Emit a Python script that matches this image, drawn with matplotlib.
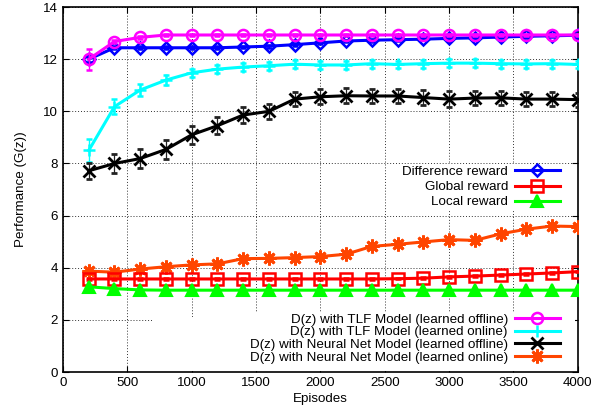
import numpy as np
import matplotlib
matplotlib.use('Agg')
import matplotlib.pyplot as plt
from matplotlib.patches import Rectangle

plt.rcParams['font.family'] = ['Liberation Sans', 'DejaVu Sans']
plt.rcParams['font.size'] = 9.6

episodes = [200, 400, 600, 800, 1000, 1200, 1400, 1600, 1800, 2000,
            2200, 2400, 2600, 2800, 3000, 3200, 3400, 3600, 3800, 4000]

difference = [12.0, 12.44, 12.44, 12.44, 12.44, 12.44, 12.47, 12.5, 12.56, 12.63,
              12.7, 12.73, 12.75, 12.77, 12.8, 12.82, 12.85, 12.88, 12.9, 12.92]
global_r = [3.57, 3.57, 3.57, 3.57, 3.57, 3.57, 3.57, 3.57, 3.57, 3.57,
            3.57, 3.57, 3.58, 3.6, 3.65, 3.68, 3.72, 3.76, 3.8, 3.85]
local_r = [3.27, 3.2, 3.15, 3.14, 3.14, 3.14, 3.14, 3.14, 3.14, 3.14,
           3.14, 3.14, 3.14, 3.14, 3.14, 3.14, 3.14, 3.14, 3.14, 3.14]
tlf_offline = [12.0, 12.68, 12.84, 12.93, 12.93, 12.93, 12.93, 12.93, 12.93, 12.93,
               12.93, 12.93, 12.93, 12.93, 12.93, 12.93, 12.93, 12.93, 12.93, 12.93]
tlf_online = [8.5, 10.18, 10.82, 11.2, 11.48, 11.62, 11.7, 11.75, 11.81, 11.78,
              11.78, 11.83, 11.8, 11.83, 11.85, 11.85, 11.83, 11.82, 11.83, 11.8]
nn_offline = [7.72, 8.0, 8.19, 8.54, 9.1, 9.45, 9.86, 10.0, 10.47, 10.56,
              10.6, 10.59, 10.59, 10.53, 10.47, 10.51, 10.52, 10.47, 10.47, 10.45]
nn_online = [3.87, 3.83, 3.95, 4.04, 4.11, 4.15, 4.35, 4.36, 4.39, 4.43,
             4.52, 4.82, 4.9, 4.99, 5.08, 5.05, 5.3, 5.48, 5.6, 5.58]

tlf_offline_err = [0.4, 0.05, 0.05, 0.05, 0.05, 0.05, 0.05, 0.05, 0.05, 0.05,
                   0.05, 0.05, 0.05, 0.05, 0.05, 0.05, 0.05, 0.05, 0.05, 0.05]
tlf_online_err = [0.45, 0.3, 0.22, 0.2, 0.15, 0.15, 0.15, 0.15, 0.15, 0.15,
                  0.15, 0.15, 0.15, 0.15, 0.15, 0.15, 0.15, 0.15, 0.15, 0.15]
nn_offline_err = [0.3, 0.36, 0.35, 0.36, 0.35, 0.33, 0.3, 0.3, 0.27, 0.28,
                  0.28, 0.27, 0.27, 0.3, 0.3, 0.28, 0.28, 0.28, 0.28, 0.27]
difference_err = [0.1] + [0.05] * 19

fig = plt.figure(figsize=(5.92, 4.18), dpi=100)
ax = fig.add_axes([0.1064, 0.110, 0.8696, 0.873])

lw = 2.2
ms = 8

# TLF offline
l_tlf_off = ax.errorbar(episodes, tlf_offline, yerr=tlf_offline_err, color='#ff00ff', lw=lw,
                        marker='o', ms=ms, mfc='none', mew=1.8, capsize=2.5, elinewidth=1,
                        ecolor='#ff00ff', zorder=5)
# TLF online
l_tlf_on = ax.errorbar(episodes, tlf_online, yerr=tlf_online_err, color='#00ffff', lw=lw,
                       marker='+', ms=ms + 1, mew=1.8, capsize=2.5, elinewidth=1,
                       ecolor='#00ffff', zorder=4)
# NN offline
l_nn_off = ax.errorbar(episodes, nn_offline, yerr=nn_offline_err, color='black', lw=lw,
                       marker='x', ms=ms + 1, mew=2, capsize=2.5, elinewidth=0.9,
                       ecolor='#222222', zorder=4)
# NN online
l_nn_on = ax.errorbar(episodes, nn_online, yerr=0.04, color='#ff4500', lw=lw,
                      marker=(8, 2, 0), ms=ms + 2, mew=2, capsize=2, elinewidth=1,
                      zorder=4)
# Difference
l_diff = ax.errorbar(episodes, difference, yerr=difference_err, color='#0000ff', lw=lw,
                     marker='D', ms=ms - 1.5, mfc='none', mew=1.8, capsize=2, elinewidth=1,
                     zorder=4)
# Global
l_glob = ax.errorbar(episodes, global_r, yerr=0.03, color='#ff0000', lw=lw,
                     marker='s', ms=ms, mfc='none', mew=1.8, capsize=2, elinewidth=1,
                     zorder=4)
# Local
l_loc = ax.errorbar(episodes, local_r, yerr=0.03, color='#00ff00', lw=lw,
                    marker='^', ms=ms, mew=1.5, capsize=2, elinewidth=1,
                    zorder=4)

ax.set_xlim(0, 4000)
ax.set_ylim(0, 14)
ax.set_xticks(np.arange(0, 4001, 500))
ax.set_yticks(np.arange(0, 15, 2))
ax.tick_params(direction='in', top=True, right=True, length=4, width=0.8, labelsize=9.6)
ax.grid(True, linestyle=(0, (1, 2)), color='#333333', lw=0.7)
ax.set_axisbelow(True)
for s in ax.spines.values():
    s.set_linewidth(1.2)

# white key box of the bottom legend hides the grid like gnuplot does
ax.add_patch(Rectangle((0.175, 0.003), 0.82, 0.147, transform=ax.transAxes,
                       facecolor='white', edgecolor='none', zorder=1.5))

ax.set_xlabel('Episodes', labelpad=3)
ax.set_ylabel('Performance (G(z))', labelpad=12)


def right_legend(handles, labels, y, spacing):
    leg = ax.legend([h[0] for h in handles], labels, loc='center right',
                    bbox_to_anchor=(0.968, y),
                    markerfirst=False, frameon=True, framealpha=1, facecolor='white',
                    edgecolor='none', fancybox=False, borderpad=0.1, handlelength=3.4,
                    handletextpad=0.5, labelspacing=spacing, borderaxespad=0)
    for col in leg._legend_handle_box.get_children():
        col.align = 'right'
    leg.set_zorder(10)
    return leg


leg1 = right_legend([l_diff, l_glob, l_loc],
                    ['Difference reward', 'Global reward', 'Local reward'],
                    0.507, 0.22)
ax.add_artist(leg1)
leg2 = right_legend([l_tlf_off, l_tlf_on, l_nn_off, l_nn_on],
                    ['D(z) with TLF Model (learned offline)',
                     'D(z) with TLF Model (learned online)',
                     'D(z) with Neural Net Model (learned offline)',
                     'D(z) with Neural Net Model (learned online)'],
                    0.092, 0.02)

fig.savefig('out.png', dpi=100)
